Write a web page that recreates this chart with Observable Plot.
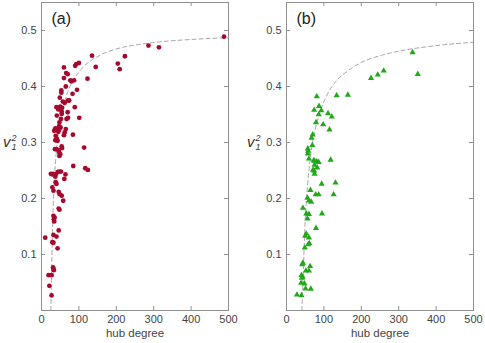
<!DOCTYPE html>
<html><head><meta charset="utf-8">
<script src="https://cdn.jsdelivr.net/npm/d3@7"></script>
<script src="https://cdn.jsdelivr.net/npm/@observablehq/plot@0.6"></script>
<style>
body{margin:0;background:#fff;font-family:"Liberation Sans",Arial,sans-serif}
#wrap{position:relative;width:485px;height:343px;overflow:hidden}
.panel{position:absolute;top:0}
.ylab{position:absolute;font-size:15px;color:#333;line-height:1;white-space:nowrap}
.ylab i{font-style:italic}
.ss{display:inline-block;vertical-align:middle;font-size:9px;line-height:9px;margin-left:1px;font-style:italic}
.ss span{display:block}
</style></head>
<body><div id="wrap"></div>
<script>
// ---- data ----
const xTicks = [0, 100, 200, 300, 400, 500];
const yTicks = [0.1, 0.2, 0.3, 0.4, 0.5];
const panelLabels = ["(a)", "(b)"];
const xLabel = "hub degree";

const degreeA = [488,314,286,223,209,204,145,135,123,100,93,90,87,77,80,60,66,70,60,95,53,53,65,83,49,74,71,57,62,89,40,45,50,55,101,54,54,70,71,41,52,48,67,34,37,47,51,48,65,45,45,62,60,38,37,84,41,43,54,55,114,36,39,44,47,50,48,85,117,124,25,29,31,43,47,52,38,37,64,61,38,40,29,32,46,48,54,58,46,48,32,35,33,34,46,32,40,10,29,32,43,31,32,33,19,27,21,27];
const v2A = [0.489,0.470,0.473,0.454,0.431,0.441,0.435,0.455,0.414,0.442,0.440,0.437,0.411,0.411,0.409,0.434,0.424,0.422,0.415,0.394,0.393,0.389,0.400,0.387,0.380,0.375,0.375,0.373,0.371,0.363,0.363,0.359,0.364,0.362,0.344,0.355,0.351,0.354,0.344,0.348,0.342,0.336,0.342,0.321,0.325,0.329,0.327,0.324,0.324,0.321,0.319,0.318,0.313,0.312,0.304,0.314,0.307,0.303,0.293,0.290,0.291,0.288,0.288,0.287,0.283,0.279,0.276,0.258,0.254,0.251,0.244,0.243,0.244,0.247,0.248,0.248,0.243,0.239,0.243,0.235,0.229,0.226,0.220,0.214,0.212,0.208,0.205,0.196,0.182,0.180,0.169,0.166,0.163,0.159,0.143,0.135,0.132,0.130,0.122,0.121,0.111,0.077,0.074,0.072,0.063,0.063,0.044,0.027];

const degreeB = [337,351,260,244,226,164,134,81,87,74,93,111,86,121,79,98,115,70,67,69,57,58,57,60,73,75,81,86,118,75,82,71,74,75,94,131,64,126,78,86,56,60,66,44,53,60,56,95,79,53,50,60,58,61,49,44,42,63,52,60,40,43,41,39,48,51,65,28,40];
const v2B = [0.461,0.422,0.428,0.421,0.415,0.385,0.384,0.382,0.365,0.358,0.357,0.352,0.350,0.346,0.336,0.332,0.323,0.314,0.308,0.295,0.289,0.285,0.280,0.271,0.268,0.267,0.266,0.265,0.269,0.260,0.255,0.251,0.249,0.244,0.226,0.228,0.215,0.207,0.207,0.207,0.201,0.196,0.194,0.183,0.173,0.172,0.164,0.173,0.147,0.137,0.133,0.130,0.118,0.120,0.112,0.085,0.082,0.079,0.071,0.071,0.063,0.060,0.058,0.049,0.048,0.039,0.0385,0.028,0.027];

// dashed guide curves
const curveAx = [25,27,29,32,38,45,55,70,85,108,160,200,283,400,500];
const curveAy = [0,0.07,0.13,0.20,0.27,0.315,0.352,0.39,0.411,0.432,0.457,0.467,0.477,0.484,0.487];
const curveBx = [41,44,47,50,54,60,66,75,88,110,133,160,200,250,300,400,500];
const curveBy = [0,0.05,0.11,0.16,0.205,0.25,0.285,0.318,0.351,0.387,0.41,0.426,0.443,0.455,0.463,0.473,0.479];

const zip = (xs, ys) => xs.map((k, i) => ({k, v: ys[i]}));

const H = 343, MT = 2, MB = 33, MR = 12;
const gray = "#8f8f8f";

function makePanel({width, ml, pts, curve, symbol, color, r, label}) {
  const pw = width - ml - MR, ph = H - MT - MB;
  return Plot.plot({
    width, height: H,
    marginLeft: ml, marginRight: MR, marginTop: MT, marginBottom: MB,
    style: {fontFamily: '"Liberation Sans", Arial, sans-serif', fontSize: "11px", color: "#444", background: "white"},
    x: {domain: [0, 500]},
    y: {domain: [0, 0.55]},
    marks: [
      Plot.line(curve, {x: "k", y: "v", stroke: "#a6a6a6", strokeWidth: 1, strokeDasharray: "4,3", curve: "monotone-x"}),
      Plot.dot(pts, {x: "k", y: "v", symbol, fill: color, stroke: "none", r}),
      Plot.frame({stroke: gray}),
      Plot.ruleX(xTicks, {x: d => d, stroke: gray, insetTop: ph - 4}),
      Plot.ruleX(xTicks, {x: d => d, stroke: gray, insetBottom: ph - 4}),
      Plot.ruleY(yTicks, {y: d => d, stroke: gray, insetRight: pw - 4}),
      Plot.ruleY(yTicks, {y: d => d, stroke: gray, insetLeft: pw - 4}),
      Plot.axisX(xTicks, {tickSize: 0, tickPadding: 5, label: null, fill: "#444"}),
      Plot.axisY(yTicks, {tickSize: 0, tickPadding: 5, label: null, fill: "#444", tickFormat: d3.format(".1f")}),
      Plot.text([label], {frameAnchor: "top-left", dx: 10, dy: 10, fontSize: 16, fill: "#222", textAnchor: "start"}),
      Plot.text([xLabel], {frameAnchor: "bottom", dy: 26, fontSize: 11.5, fill: "#444"})
    ]
  });
}

const wrap = document.getElementById("wrap");

const a = makePanel({width: 240, ml: 41, pts: zip(degreeA, v2A), curve: zip(curveAx, curveAy), symbol: "circle", color: "#a50a2e", r: 2.4, label: panelLabels[0]});
a.classList.add("panel"); a.style.left = "0px";
wrap.appendChild(a);

const b = makePanel({width: 245, ml: 46, pts: zip(degreeB, v2B), curve: zip(curveBx, curveBy), symbol: "triangle", color: "#22a81a", r: 2.3, label: panelLabels[1]});
b.classList.add("panel"); b.style.left = "240px";
wrap.appendChild(b);

function yLabel(left) {
  const d = document.createElement("div");
  d.className = "ylab";
  d.style.left = left + "px";
  d.style.top = "134px";
  d.innerHTML = '<i>v</i><span class="ss"><span>2</span><span>1</span></span>';
  wrap.appendChild(d);
}
yLabel(3);
yLabel(247);
</script>
</body></html>
